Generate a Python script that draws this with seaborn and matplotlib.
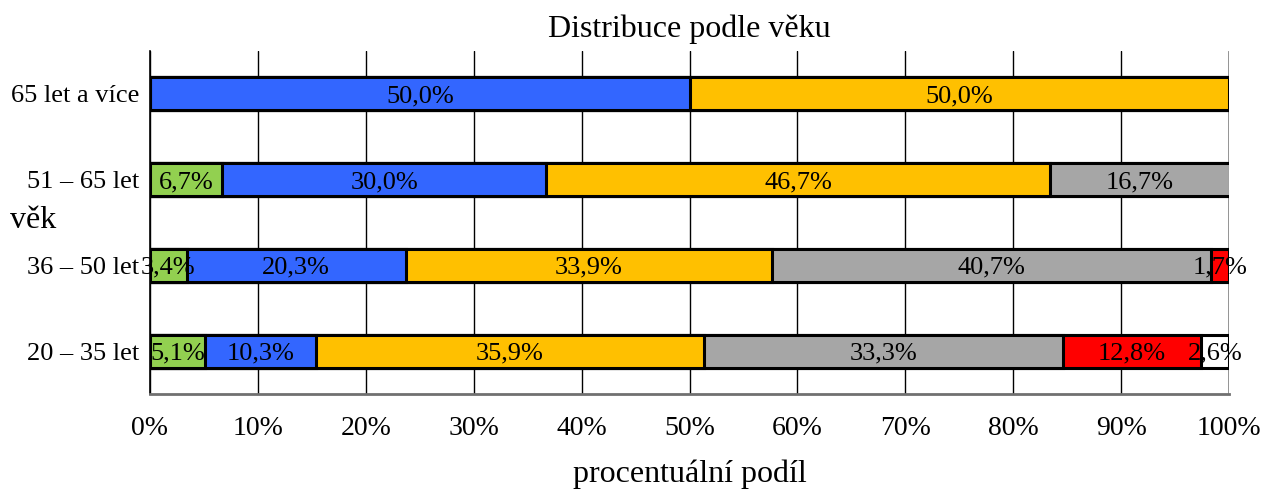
import matplotlib
matplotlib.use("Agg")
import matplotlib.pyplot as plt
import seaborn as sns
import pandas as pd
import numpy as np

categories = ["65 let a více", "51 – 65 let", "36 – 50 let", "20 – 35 let"]
series_names = ["zelená", "modrá", "žlutá", "šedá", "červená", "bílá"]
green = [0.0, 6.7, 3.4, 5.1]
blue = [50.0, 30.0, 20.3, 10.3]
orange = [50.0, 46.7, 33.9, 35.9]
gray = [0.0, 16.7, 40.7, 33.3]
red = [0.0, 0.0, 1.7, 12.8]
white = [0.0, 0.0, 0.0, 2.6]
colors = ["#92D050", "#3366FF", "#FFC000", "#A6A6A6", "#FF0000", "#FFFFFF"]
xticks = [0, 10, 20, 30, 40, 50, 60, 70, 80, 90, 100]

series = [green, blue, orange, gray, red, white]

sns.set_style("white")
plt.rcParams['font.family'] = ['Liberation Serif', 'DejaVu Serif']
plt.rcParams['text.color'] = 'black'
plt.rcParams['axes.labelcolor'] = 'black'
plt.rcParams['xtick.color'] = 'black'
plt.rcParams['ytick.color'] = 'black'

fig = plt.figure(figsize=(12.85, 4.92), dpi=100)
ax = fig.add_axes([150/1285, 1-394/492, (1229-150)/1285, (394-51)/492])

vals = np.array(series)  # shape (6, 4)
cum = np.cumsum(vals, axis=0)

# draw from largest cumulative to smallest so segments stack
for i in range(len(series) - 1, -1, -1):
    df = pd.DataFrame({"kat": categories, "v": cum[i]})
    sns.barplot(data=df, y="kat", x="v", order=categories, orient="h",
                color=colors[i], edgecolor="black", linewidth=2.2,
                width=0.385, ax=ax, saturation=1, zorder=3)

# labels
for i in range(len(series)):
    for j in range(len(categories)):
        v = vals[i][j]
        if v > 0:
            start = cum[i][j] - v
            ax.text(start + v/2, j, f"{v:.1f}%".replace(".", ","),
                    ha="center", va="center_baseline", fontsize=19, color="black",
                    zorder=5, clip_on=False)

ax.set_xlim(0, 100)
ax.set_ylim(3.5, -0.5)
ax.set_xticks(xticks)
ax.set_xticklabels([f"{t}%" for t in xticks], fontsize=20)
ax.tick_params(axis="x", length=6, width=1, color="black", pad=10, direction="out")
ax.tick_params(axis="y", length=0, pad=8, labelsize=19)
ax.set_yticks(np.arange(-0.5, 4.0, 1.0), minor=True)
ax.tick_params(axis="y", which="minor", length=6, width=1, color="black", direction="out")
ax.set_yticklabels(categories, fontsize=19, va="center_baseline")

ax.grid(axis="x", color="black", linewidth=1, zorder=0)
ax.set_axisbelow(True)
for s in ["top", "right"]:
    ax.spines[s].set_visible(False)
ax.spines["left"].set_color("black")
ax.spines["left"].set_linewidth(1.2)
ax.spines["bottom"].set_color("#707070")
ax.spines["bottom"].set_linewidth(2)
ax.axvline(100, color="#909090", linewidth=2, zorder=1)

ax.set_xlabel("procentuální podíl", fontsize=23, labelpad=13)
ax.set_ylabel("")
fig.text(10/1285, 1-220/492, "věk", fontsize=23, ha="left", va="center")
ax.set_title("Distribuce podle věku", fontsize=23, pad=10)

fig.savefig("out.png", dpi=100)
